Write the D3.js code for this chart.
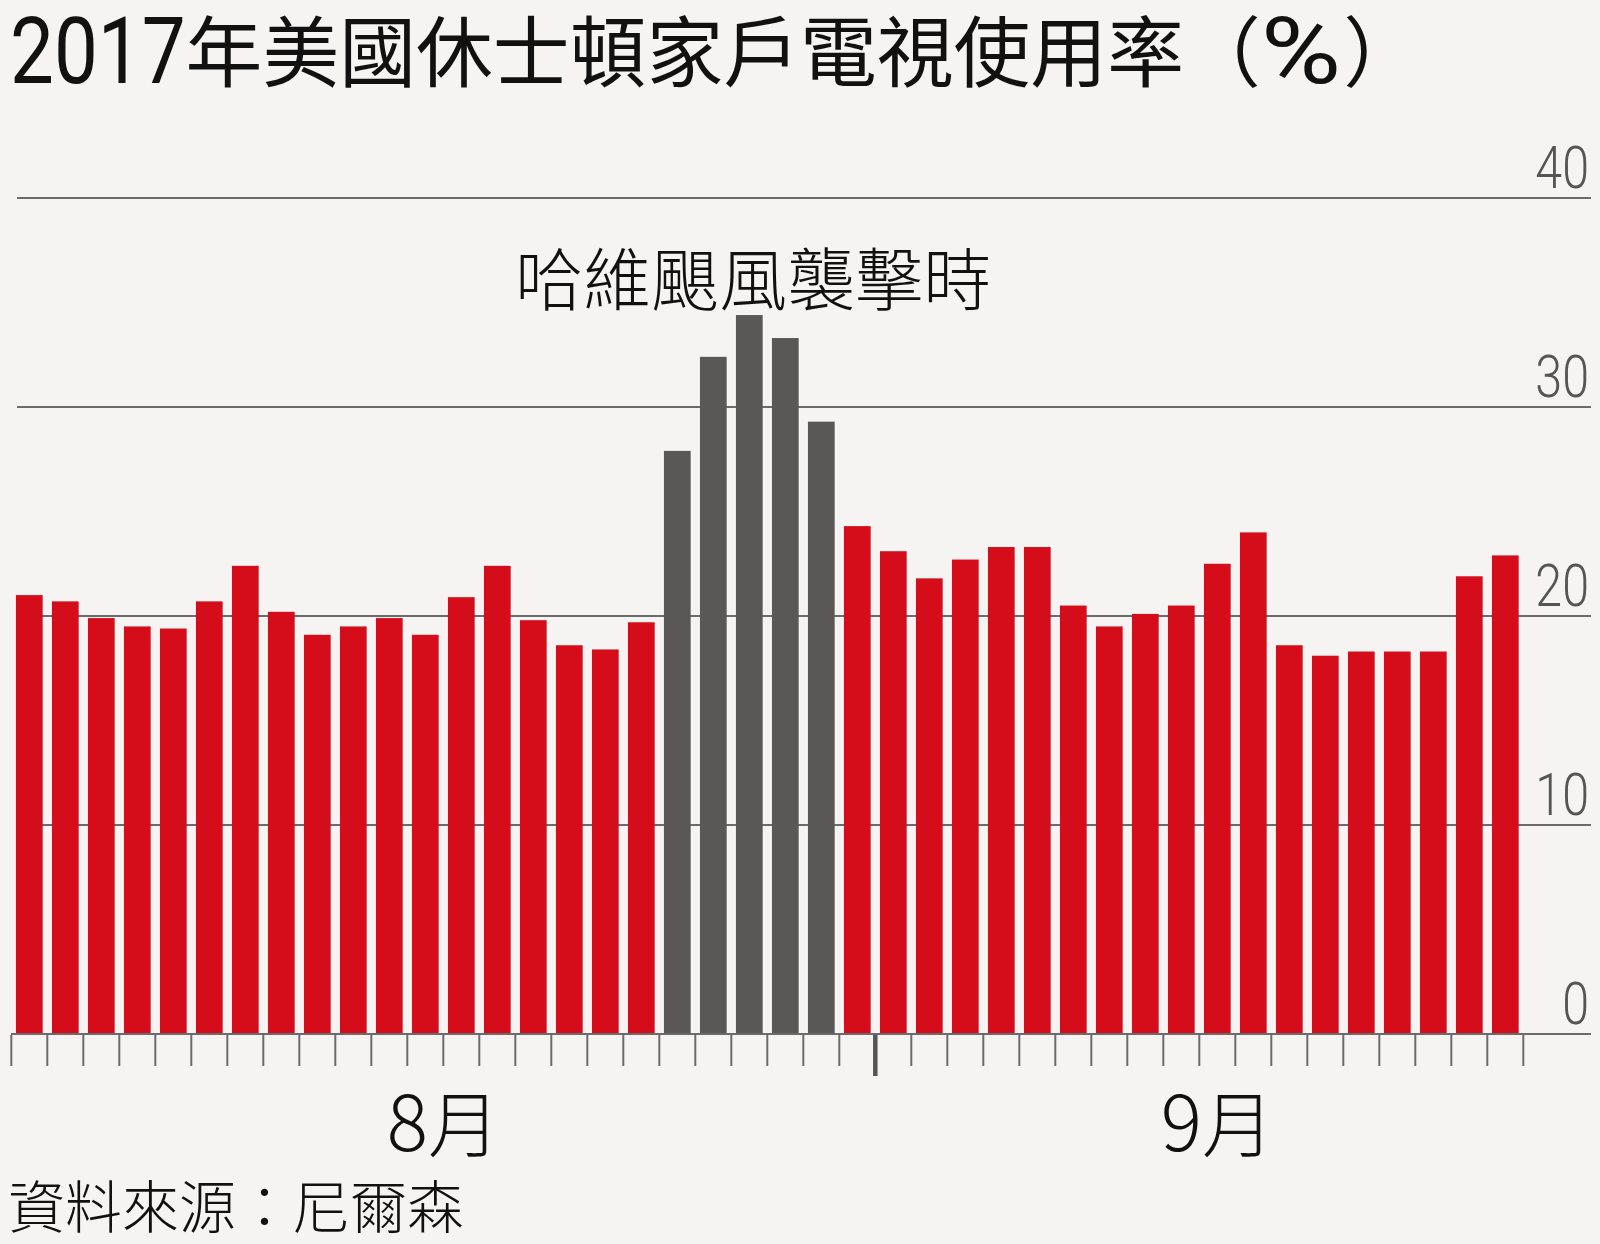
<!DOCTYPE html>
<html><head><meta charset="utf-8">
<script src="https://cdn.jsdelivr.net/npm/d3@7"></script>
<style>
html,body{margin:0;padding:0;background:#f5f4f2;}
svg{display:block;}
</style>
</head><body>
<script>
// ---- data ----
const dates = ["8/8","8/9","8/10","8/11","8/12","8/13","8/14","8/15","8/16","8/17","8/18","8/19",
  "8/20","8/21","8/22","8/23","8/24","8/25","8/26","8/27","8/28","8/29","8/30","8/31",
  "9/1","9/2","9/3","9/4","9/5","9/6","9/7","9/8","9/9","9/10","9/11","9/12","9/13","9/14",
  "9/15","9/16","9/17","9/18"];
const values = [21.0, 20.7, 19.9, 19.5, 19.4, 20.7, 22.4, 20.2, 19.1, 19.5, 19.9, 19.1,
  20.9, 22.4, 19.8, 18.6, 18.4, 19.7, 27.9, 32.4, 34.4, 33.3, 29.3, 24.3,
  23.1, 21.8, 22.7, 23.3, 23.3, 20.5, 19.5, 20.1, 20.5, 22.5, 24.0, 18.6, 18.1, 18.3,
  18.3, 18.3, 21.9, 22.9];
const hurricaneDates = ["8/26","8/27","8/28","8/29","8/30"];
const yTicks = [0, 10, 20, 30, 40];
const monthNames = ["8月", "9月"];
const monthDigits = ["8", "9"];
const monthBoundary = "9/1";
const monthLabelAt = [12, 33.5];   // position in category units
const titleText = "2017年美國休士頓家戶電視使用率（%）";
const annotationText = "哈維颶風襲擊時";
const annotationAt = "8/28";
const sourceText = "資料來源：尼爾森";

// ---- drawing ----
const W = 1600, H = 1244;
const CJK = "'Noto Sans CJK TC','Noto Sans CJK SC',sans-serif";
const LAT = "Roboto,'Noto Sans',sans-serif";
const RED = "#d50c19", GRAY = "#595856", GRID = "#6b6b6b";

const svg = d3.select("body").append("svg").attr("width", W).attr("height", H);
svg.append("rect").attr("width", W).attr("height", H).attr("fill", "#f5f4f2");

const x = d3.scaleBand().domain(dates).range([11.3, 1523.3]).paddingInner(0.258).paddingOuter(0.129);
const y = d3.scaleLinear().domain([0, 40]).range([1034, 198]);
const step = x.step();
const gap = step - x.bandwidth();
const edge = d => x(d) - gap / 2;

// gridlines
svg.append("g").selectAll("line").data(yTicks.filter(t => t > 0)).join("line")
  .attr("x1", 17).attr("x2", 1591)
  .attr("y1", d => y(d)).attr("y2", d => y(d))
  .attr("stroke", GRID).attr("stroke-width", 2);

// y labels
svg.append("g").selectAll("text").data(yTicks).join("text")
  .attr("transform", d => `translate(1589,${y(d) - 10.5}) scale(0.82,1)`)
  .attr("text-anchor", "end")
  .attr("font-family", LAT).attr("font-weight", 300).attr("font-size", 59)
  .attr("fill", "#555").text(d => d);

// bars
svg.append("g").selectAll("rect").data(dates).join("rect")
  .attr("x", d => x(d)).attr("width", x.bandwidth())
  .attr("y", (d, i) => y(values[i])).attr("height", (d, i) => y(0) - y(values[i]))
  .attr("fill", d => hurricaneDates.includes(d) ? GRAY : RED);

// baseline
svg.append("line").attr("x1", 11).attr("x2", 1591).attr("y1", y(0)).attr("y2", y(0))
  .attr("stroke", GRID).attr("stroke-width", 2);

// ticks at band boundaries
const tickXs = dates.map(edge).concat([x(dates[dates.length - 1]) + x.bandwidth() + gap / 2]);
svg.append("g").selectAll("line").data(tickXs).join("line")
  .attr("x1", d => d).attr("x2", d => d)
  .attr("y1", y(0) + 1).attr("y2", y(0) + 32)
  .attr("stroke", GRID).attr("stroke-width", 2);
svg.append("line").attr("x1", edge(monthBoundary)).attr("x2", edge(monthBoundary))
  .attr("y1", y(0) + 1).attr("y2", y(0) + 42)
  .attr("stroke", "#555").attr("stroke-width", 4.5);

// month labels
monthNames.forEach((m, i) => {
  const pos = x.range()[0] + step * monthLabelAt[i];
  const t = svg.append("text").attr("x", pos).attr("y", 1151)
    .attr("text-anchor", "middle").attr("font-family", CJK).attr("font-weight", 300).attr("fill", "#111");
  t.append("tspan").attr("font-size", 77).text(monthDigits[i]);
  t.append("tspan").attr("font-size", 72).text(m.slice(monthDigits[i].length));
});

// annotation
svg.append("text").attr("x", x(annotationAt) + x.bandwidth() / 2 + 4).attr("y", 305)
  .attr("text-anchor", "middle").attr("font-family", CJK).attr("font-weight", 300)
  .attr("font-size", 68).attr("fill", "#111").text(annotationText);

// source
svg.append("text").attr("x", 8).attr("y", 1228)
  .attr("font-family", CJK).attr("font-weight", 300).attr("font-size", 57)
  .attr("fill", "#111").text(sourceText);

// title: latin pieces in a condensed face, CJK pieces in Noto Sans CJK
const pieces = [];
{
  let buf = "", lat = null;
  for (const ch of titleText) {
    const isLat = /[0-9%]/.test(ch);
    if (lat === null || isLat === lat) { buf += ch; lat = isLat; }
    else { pieces.push({ text: buf, latin: lat }); buf = ch; lat = isLat; }
  }
  if (buf) pieces.push({ text: buf, latin: lat });
}
let cx = 10;
const TY = 83;
pieces.forEach(p => {
  if (p.latin) {
    const pct = p.text === "%";
    const sx = pct ? 1.18 : 0.84;
    const t = svg.append("text").attr("transform", `translate(${cx},${TY}) scale(${sx},1)`)
      .attr("font-family", LAT).attr("font-size", 93).attr("fill", "#111").text(p.text);
    cx += t.node().getComputedTextLength() * sx;
    if (pct) cx += 2;
  } else {
    const t = svg.append("text").attr("x", cx).attr("y", TY - 2)
      .attr("font-family", CJK).attr("font-size", 76.8).attr("fill", "#111").text(p.text);
    cx += t.node().getComputedTextLength();
  }
});
</script>
</body></html>
